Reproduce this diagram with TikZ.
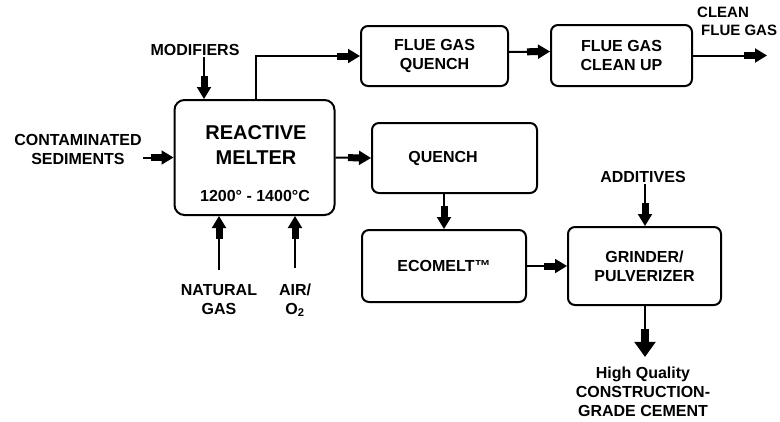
\documentclass[tikz,border=0pt]{standalone}
\usepackage{fontspec}
\setmainfont{Liberation Sans}
\usetikzlibrary{arrows.meta}
\newcommand{\lblfont}{\fontsize{16}{19}\selectfont\bfseries}
\newcommand{\bigfont}{\fontsize{20}{25}\selectfont\bfseries}
\tikzset{
  unit/.style={draw,line width=2pt,rounded corners=7pt,inner sep=0pt},
  lbl/.style={font=\lblfont,align=center,inner sep=1pt},
  flow/.style={line width=2pt,-{Rectangle[length=11pt,width=7pt]Triangle[length=12pt,width=14pt]}},
  bigflow/.style={line width=2.2pt,-{Rectangle[length=13pt,width=8pt]Triangle[length=15pt,width=21pt]}},
}
\begin{document}
\begin{tikzpicture}[x=1pt,y=-1pt]
\useasboundingbox (0,0) rectangle (780,421);
% process units
\node[unit,rounded corners=10pt,minimum width=160pt,minimum height=115pt] (melter) at (254.5,157.5) {};
\node[lbl,font=\bigfont] (melterlbl) at (256,145) {REACTIVE\\MELTER};
\node[lbl] (temp) at (255,196) {1200° - 1400°C};
\node[unit,lbl,minimum width=147pt,minimum height=60pt] (fgq) at (434.5,56) {FLUE GAS\\QUENCH};
\node[unit,lbl,minimum width=141pt,minimum height=61pt] (fgc) at (621.5,55.5) {FLUE GAS\\CLEAN UP};
\node[unit,minimum width=165pt,minimum height=70pt] (quench) at (454.5,158) {};
\node[lbl] (quenchlbl) at (443,158) {QUENCH};
\node[unit,lbl,minimum width=164pt,minimum height=72pt] (ecomelt) at (444,266) {ECOMELT™};
\node[unit,lbl,minimum width=153pt,minimum height=78pt] (grinder) at (644.5,266) {GRINDER/\\PULVERIZER};
% streams
\node[lbl] (modifiers) at (195,50) {MODIFIERS};
\node[lbl] (contam) at (78,149) {CONTAMINATED\\SEDIMENTS};
\node[lbl,font=\fontsize{15}{18}\selectfont\bfseries,align=left,anchor=north west] (cleangas) at (696,6) {CLEAN\\\hspace{4pt}FLUE GAS};
\node[lbl] (additives) at (643,177) {ADDITIVES};
\node[lbl] (natgas) at (219,300) {NATURAL\\GAS};
\node[lbl] (air) at (295,300) {AIR/\\O\textsubscript{2}};
\node[lbl] (cement) at (643,392) {High Quality\\CONSTRUCTION-\\GRADE CEMENT};
\coordinate (cleanend) at (767,55.5);
% connectors
\draw[flow] ([xshift=9pt]modifiers.south) -- ([xshift=-50.5pt]melter.north);
\draw[flow] ([xshift=1.5pt]melter.north) |- (fgq.west);
\draw[flow] (contam.east |- melter.west) -- (melter.west);
\draw[flow] (melter.east) -- (quench.west);
\draw[flow] ([yshift=4pt]fgq.east) -- ([yshift=4pt]fgc.west);
\draw[flow] (fgc.east) -- (cleanend);
\draw[flow] (quench.south -| ecomelt.north) -- (ecomelt.north);
\draw[flow] (ecomelt.east) -- (grinder.west);
\draw[flow] ([xshift=2pt]additives.south) -- ([xshift=0.5pt]grinder.north);
\draw[bigflow] ([xshift=0.5pt]grinder.south) -- ([xshift=2pt,yshift=9pt]cement.north);
\draw[flow] ([yshift=14pt]natgas.north) -- (natgas.north |- melter.south);
\draw[flow] ([yshift=14pt]air.north) -- (air.north |- melter.south);
\end{tikzpicture}
\end{document}
